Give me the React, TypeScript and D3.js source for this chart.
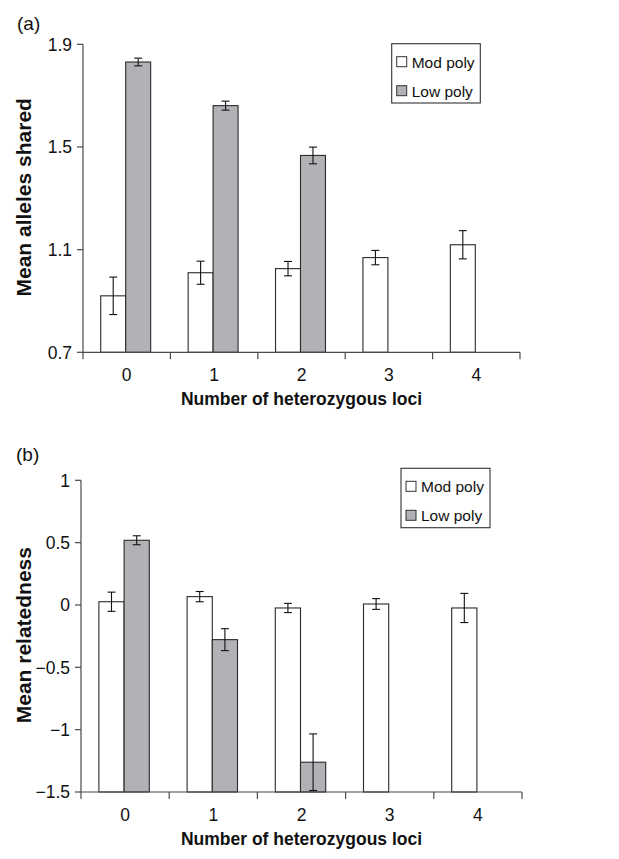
import React from "react";
import * as d3 from "d3";

// ---- data ----
const categories = ["0", "1", "2", "3", "4"];
const seriesNames = ["Mod poly", "Low poly"];

const allelesMod = [0.92, 1.01, 1.026, 1.069, 1.119];
const allelesModErr = [0.073, 0.045, 0.028, 0.028, 0.055];
const allelesLow: (number | null)[] = [1.831, 1.661, 1.467, null, null];
const allelesLowErr: (number | null)[] = [0.015, 0.0175, 0.0325, null, null];
const allelesTicks = [0.7, 1.1, 1.5, 1.9];
const allelesTickLabels = ["0.7", "1.1", "1.5", "1.9"];

const relMod = [0.026, 0.067, -0.024, 0.008, -0.024];
const relModErr = [0.077, 0.041, 0.037, 0.043, 0.117];
const relLow: (number | null)[] = [0.519, -0.278, -1.261, null, null];
const relLowErr: (number | null)[] = [0.036, 0.088, 0.227, null, null];
const relTicks = [-1.5, -1, -0.5, 0, 0.5, 1];
const relTickLabels = ["\u22121.5", "\u22121", "\u22120.5", "0", "0.5", "1"];

const FONT = "'Liberation Sans', Arial, Helvetica, sans-serif";
const AXIS = "#4a4a4a";
const BAR_STROKE = "#2a2a2a";
const LOW_FILL = "#b1b2b6";
const fills = ["#ffffff", LOW_FILL];

type PanelProps = {
  label: string;
  yTitle: string;
  left: number;
  right: number;
  top: number;
  bottom: number;
  domain: [number, number];
  ticks: number[];
  tickLabels: string[];
  mod: number[];
  modErr: number[];
  low: (number | null)[];
  lowErr: (number | null)[];
  legend: { x: number; y: number; w: number; h: number };
  labelPos: { x: number; y: number };
};

function Panel(p: PanelProps) {
  const x = d3.scaleBand<string>().domain(categories).range([p.left, p.right]).paddingInner(0).paddingOuter(0);
  const inner = d3
    .scaleBand<string>()
    .domain(seriesNames)
    .range([0, x.bandwidth()])
    .paddingInner(0)
    .paddingOuter(0.75);
  const y = d3.scaleLinear().domain(p.domain).range([p.bottom, p.top]);
  const base = p.domain[0];
  const values = [p.mod, p.low];
  const errs = [p.modErr, p.lowErr];
  const bw = inner.bandwidth();
  const cap = 4;
  const boundaries = [...categories.map((c) => x(c) as number), p.right];
  const cx = (p.left + p.right) / 2;

  return (
    <g>
      <text x={p.labelPos.x} y={p.labelPos.y} fontSize={19} fontFamily={FONT} fill="#111">
        {p.label}
      </text>
      {/* bars */}
      {values.map((vals, si) =>
        vals.map((v, i) => {
          if (v === null || v === undefined) return null;
          const bx = (x(categories[i]) as number) + (inner(seriesNames[si]) as number) - 1;
          return (
            <rect
              key={`b${si}-${i}`}
              x={bx}
              y={y(v)}
              width={bw}
              height={y(base) - y(v)}
              fill={fills[si]}
              stroke={BAR_STROKE}
              strokeWidth={1.1}
            />
          );
        })
      )}
      {/* error bars */}
      {values.map((vals, si) =>
        vals.map((v, i) => {
          const e = errs[si][i];
          if (v === null || v === undefined || e === null || e === undefined) return null;
          const ex = (x(categories[i]) as number) + (inner(seriesNames[si]) as number) - 1 + bw / 2;
          return (
            <g key={`e${si}-${i}`} stroke="#111" strokeWidth={1.1}>
              <line x1={ex} x2={ex} y1={y(v + e)} y2={y(v - e)} />
              <line x1={ex - cap} x2={ex + cap} y1={y(v + e)} y2={y(v + e)} />
              <line x1={ex - cap} x2={ex + cap} y1={y(v - e)} y2={y(v - e)} />
            </g>
          );
        })
      )}
      {/* y axis */}
      <line x1={p.left} x2={p.left} y1={p.top} y2={p.bottom} stroke={AXIS} strokeWidth={1.2} />
      {p.ticks.map((t, i) => (
        <g key={`yt${i}`}>
          <line x1={p.left - 6} x2={p.left} y1={y(t)} y2={y(t)} stroke={AXIS} strokeWidth={1.2} />
          <text
            x={p.left - 11}
            y={y(t)}
            dy="0.36em"
            textAnchor="end"
            fontSize={17.5}
            fontFamily={FONT}
            fill="#111"
          >
            {p.tickLabels[i]}
          </text>
        </g>
      ))}
      {/* x axis */}
      <line x1={p.left} x2={p.right} y1={p.bottom} y2={p.bottom} stroke={AXIS} strokeWidth={1.2} />
      {boundaries.map((bx, i) => (
        <line key={`xt${i}`} x1={bx} x2={bx} y1={p.bottom} y2={p.bottom + 7} stroke={AXIS} strokeWidth={1.2} />
      ))}
      {categories.map((c) => (
        <text
          key={`xl${c}`}
          x={(x(c) as number) + x.bandwidth() / 2}
          y={p.bottom + 29}
          textAnchor="middle"
          fontSize={17.5}
          fontFamily={FONT}
          fill="#111"
        >
          {c}
        </text>
      ))}
      <text
        x={cx}
        y={p.bottom + 53}
        textAnchor="middle"
        fontSize={17.5}
        fontWeight="bold"
        fontFamily={FONT}
        fill="#111"
      >
        Number of heterozygous loci
      </text>
      <text
        transform={`translate(${31},${(p.top + p.bottom) / 2 - 1}) rotate(-90)`}
        textAnchor="middle"
        fontSize={21}
        fontWeight="bold"
        fontFamily={FONT}
        fill="#111"
      >
        {p.yTitle}
      </text>
      {/* legend */}
      <g>
        <rect
          x={p.legend.x}
          y={p.legend.y}
          width={p.legend.w}
          height={p.legend.h}
          fill="#fff"
          stroke="#333"
          strokeWidth={1.1}
        />
        {seriesNames.map((s, i) => (
          <g key={`lg${i}`}>
            <rect
              x={p.legend.x + 5}
              y={p.legend.y + 13 + i * 29}
              width={10}
              height={10}
              fill={fills[i]}
              stroke="#333"
              strokeWidth={1}
            />
            <text
              x={p.legend.x + 20}
              y={p.legend.y + 24 + i * 29}
              fontSize={15.5}
              fontFamily={FONT}
              fill="#111"
            >
              {s}
            </text>
          </g>
        ))}
      </g>
    </g>
  );
}

export default function App() {
  return (
    <div style={{ position: "absolute", left: 0, top: 0 }}>
      <svg width={619} height={859} style={{ display: "block", background: "#fff" }}>
        <Panel
          label="(a)"
          yTitle="Mean alleles shared"
          left={83}
          right={520}
          top={44.3}
          bottom={352.3}
          domain={[0.7, 1.9]}
          ticks={allelesTicks}
          tickLabels={allelesTickLabels}
          mod={allelesMod}
          modErr={allelesModErr}
          low={allelesLow}
          lowErr={allelesLowErr}
          legend={{ x: 391.7, y: 43.7, w: 88.6, h: 59.3 }}
          labelPos={{ x: 17, y: 30 }}
        />
        <Panel
          label="(b)"
          yTitle="Mean relatedness"
          left={81}
          right={522}
          top={480.3}
          bottom={792}
          domain={[-1.5, 1]}
          ticks={relTicks}
          tickLabels={relTickLabels}
          mod={relMod}
          modErr={relModErr}
          low={relLow}
          lowErr={relLowErr}
          legend={{ x: 401, y: 468.3, w: 89, h: 59.4 }}
          labelPos={{ x: 16, y: 461 }}
        />
      </svg>
    </div>
  );
}
